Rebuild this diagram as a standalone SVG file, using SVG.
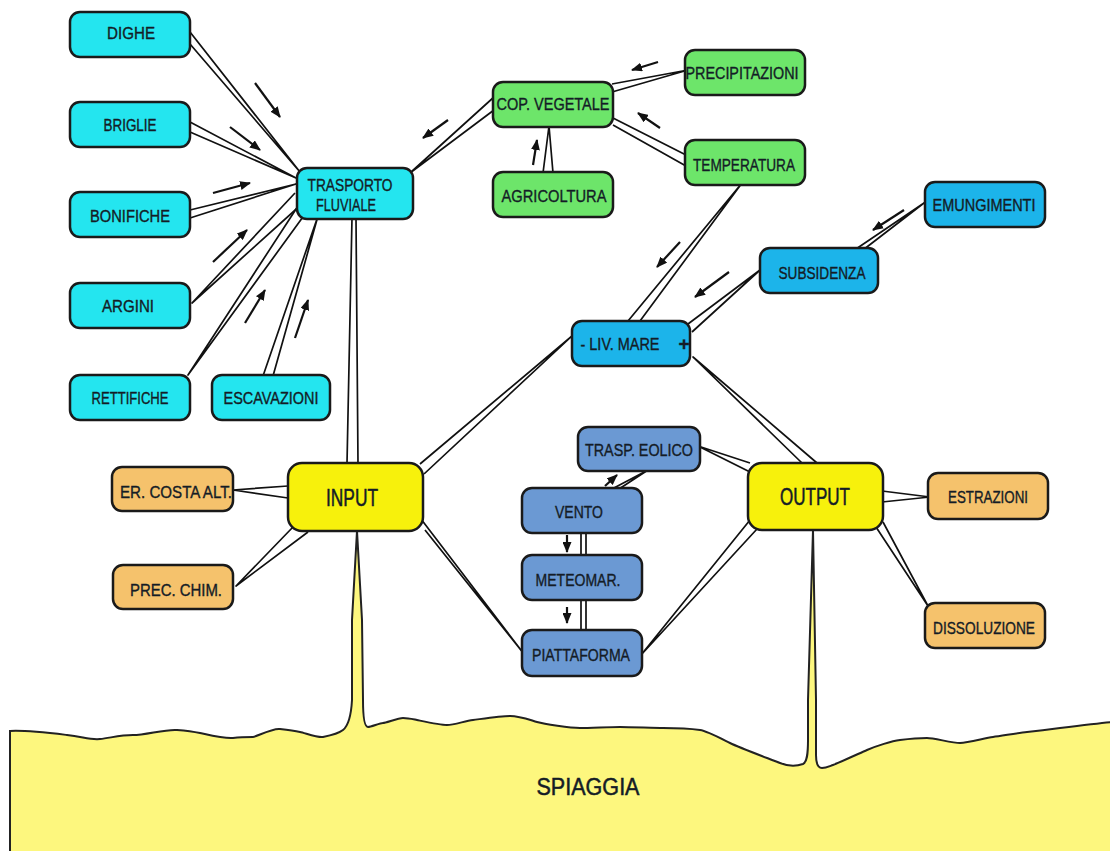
<svg xmlns="http://www.w3.org/2000/svg" width="1110" height="851" viewBox="0 0 1110 851">
<defs>
<marker id="ah" markerWidth="11" markerHeight="9" refX="10" refY="4.5" orient="auto" markerUnits="userSpaceOnUse">
<path d="M0,0 L11,4.5 L0,9 Z" fill="#111"/>
</marker>
<style>
.n rect{stroke:#1a1a1a;stroke-width:2.5}
.cy rect{fill:#24e5ef}
.gr rect{fill:#6de56a}
.bl rect{fill:#1cb4ea}
.st rect{fill:#6b99d3}
.ye rect{fill:#f7f10c}
.or rect{fill:#f5c26c}
text{font-family:"Liberation Sans",Arial,sans-serif;font-size:16.5px;fill:#141c26;stroke:#141c26;stroke-width:0.35;text-anchor:middle}
.big{font-size:23px;stroke-width:0.5}
.c path{fill:none;stroke:#111;stroke-width:1.7;stroke-linejoin:round}
.a line{stroke:#111;stroke-width:2.2;marker-end:url(#ah)}
</style>
</defs>
<rect width="1110" height="851" fill="#ffffff"/>
<g id="spiaggia">
<path d="M10,851 L10,731 C25,730 50,733 67,735 S90,740 100,739 S120,735 133,735 S165,729 177,730 S195,732 200,733 S225,739 233,738 S250,737 253,737 S272,728 280,729 S295,731 300,732 S318,738 323,737 S338,734 343,730 C348,726 351,718 352,700 L352,620 L357,531 L362,620 L363,700 C363,720 365,727 368,727 S380,723 383,723 S398,718 403,718 S412,719 417,720 S440,725 447,725 S465,721 473,720 S500,716 510,716 S530,720 537,722 S570,728 580,728 S610,727 620,727 S655,728 663,728 S693,729 700,730 S720,738 730,743 S770,759 780,763 S797,766 803,764 C807,762 808,755 808,740 L808,700 L813,530 L816,700 L816,755 C816,765 818,768 822,768 S830,766 833,765 S858,754 867,750 S892,741 900,740 S920,738 927,738 S952,743 960,743 S985,738 993,737 S1018,733 1027,732 S1052,729 1060,728 S1100,723 1112,722 L1112,853 L10,853 Z" fill="#fdf77e" stroke="#222" stroke-width="2"/>
<text x="588" y="795" class="big" textLength="103" lengthAdjust="spacingAndGlyphs">SPIAGGIA</text>
</g>
<g id="connectors" class="c">
<path d="M190,32 L300,172 L190,44"/>
<path d="M190,122 L296,178 L190,132"/>
<path d="M190,210 L296,184 L190,218"/>
<path d="M295,193 L192,303 L303,203"/>
<path d="M300,203 L188,375 L308,210"/>
<path d="M263,376 L318,216 L273,376"/>
<path d="M352,218 L347,464 M356,218 L358,464"/>
<path d="M494,97 L410,173 L494,110"/>
<path d="M612,84 L688,70 L612,92"/>
<path d="M613,118 L686,155 M613,125 L686,166"/>
<path d="M543,173 L549,126 L553,173"/>
<path d="M628,321 L742,183 L640,321"/>
<path d="M856,249 L924,203 L863,250"/>
<path d="M688,324 L760,270 L692,332"/>
<path d="M420,464 L572,336 L424,474"/>
<path d="M802,463 L693,357 L817,463"/>
<path d="M750,463 L698,446 L750,472"/>
<path d="M612,489 L648,470 L619,489"/>
<path d="M581,533 L581,556 M586,533 L586,556"/>
<path d="M581,600 L581,631 M586,600 L586,631"/>
<path d="M421,519 L524,654 L425,530"/>
<path d="M750,520 L641,655 L757,529"/>
<path d="M288,486 L233,490 L288,498"/>
<path d="M293,527 L236,586 L308,532"/>
<path d="M882,491 L930,497 L882,502"/>
<path d="M876,527 L928,606 L883,522"/>
</g>
<g id="arrows" class="a">
<line x1="255" y1="83" x2="280" y2="117"/>
<line x1="230" y1="127" x2="260" y2="150"/>
<line x1="213" y1="193" x2="250" y2="183"/>
<line x1="213" y1="262" x2="247" y2="230"/>
<line x1="245" y1="323" x2="265" y2="290"/>
<line x1="295" y1="338" x2="308" y2="300"/>
<line x1="448" y1="120" x2="423" y2="138"/>
<line x1="658" y1="62" x2="632" y2="70"/>
<line x1="660" y1="128" x2="638" y2="113"/>
<line x1="533" y1="165" x2="537" y2="140"/>
<line x1="680" y1="242" x2="657" y2="267"/>
<line x1="729" y1="272" x2="695" y2="297"/>
<line x1="904" y1="210" x2="873" y2="230"/>
<line x1="605" y1="486" x2="617" y2="475"/>
<line x1="567" y1="535" x2="567" y2="552"/>
<line x1="567" y1="607" x2="567" y2="623"/>
</g>
<g id="n-dighe" class="n cy"><rect x="70" y="12" width="120" height="45" rx="10"/><text x="131" y="39" textLength="48" lengthAdjust="spacingAndGlyphs">DIGHE</text></g>
<g id="n-briglie" class="n cy"><rect x="70" y="102" width="120" height="45" rx="10"/><text x="130" y="131" textLength="53" lengthAdjust="spacingAndGlyphs">BRIGLIE</text></g>
<g id="n-bonifiche" class="n cy"><rect x="70" y="192" width="120" height="45" rx="10"/><text x="130" y="222" textLength="80" lengthAdjust="spacingAndGlyphs">BONIFICHE</text></g>
<g id="n-argini" class="n cy"><rect x="70" y="283" width="120" height="45" rx="10"/><text x="128" y="312" textLength="52" lengthAdjust="spacingAndGlyphs">ARGINI</text></g>
<g id="n-rettifiche" class="n cy"><rect x="70" y="375" width="120" height="45" rx="10"/><text x="130" y="404" textLength="77" lengthAdjust="spacingAndGlyphs">RETTIFICHE</text></g>
<g id="n-escavazioni" class="n cy"><rect x="212" y="375" width="118" height="45" rx="10"/><text x="271" y="404" textLength="95" lengthAdjust="spacingAndGlyphs">ESCAVAZIONI</text></g>
<g id="n-trasporto" class="n cy"><rect x="297" y="168" width="116" height="51" rx="10"/><text x="350" y="191" textLength="85" lengthAdjust="spacingAndGlyphs">TRASPORTO</text><text x="346" y="211" textLength="60" lengthAdjust="spacingAndGlyphs">FLUVIALE</text></g>
<g id="n-cop" class="n gr"><rect x="493" y="82" width="120" height="45" rx="10"/><text x="553" y="110" textLength="113" lengthAdjust="spacingAndGlyphs">COP. VEGETALE</text></g>
<g id="n-precipitazioni" class="n gr"><rect x="685" y="50" width="120" height="45" rx="10"/><text x="742" y="79" textLength="113" lengthAdjust="spacingAndGlyphs">PRECIPITAZIONI</text></g>
<g id="n-temperatura" class="n gr"><rect x="685" y="140" width="120" height="45" rx="10"/><text x="744" y="171" textLength="102" lengthAdjust="spacingAndGlyphs">TEMPERATURA</text></g>
<g id="n-agricoltura" class="n gr"><rect x="493" y="172" width="120" height="45" rx="10"/><text x="554" y="202" textLength="105" lengthAdjust="spacingAndGlyphs">AGRICOLTURA</text></g>
<g id="n-emungimenti" class="n bl"><rect x="925" y="182" width="120" height="45" rx="10"/><text x="984" y="211" textLength="103" lengthAdjust="spacingAndGlyphs">EMUNGIMENTI</text></g>
<g id="n-subsidenza" class="n bl"><rect x="760" y="248" width="118" height="45" rx="10"/><text x="822" y="279" textLength="87" lengthAdjust="spacingAndGlyphs">SUBSIDENZA</text></g>
<g id="n-livmare" class="n bl"><rect x="572" y="321" width="118" height="45" rx="10"/><text x="620" y="350" textLength="79" lengthAdjust="spacingAndGlyphs">- LIV. MARE</text><text x="684" y="350" style="font-weight:bold;font-size:19px">+</text></g>
<g id="n-input" class="n ye"><rect x="288" y="463" width="135" height="68" rx="14"/><text x="352" y="506" class="big" textLength="52" lengthAdjust="spacingAndGlyphs">INPUT</text></g>
<g id="n-output" class="n ye"><rect x="748" y="463" width="135" height="67" rx="14"/><text x="815" y="505" class="big" textLength="70" lengthAdjust="spacingAndGlyphs">OUTPUT</text></g>
<g id="n-ercosta" class="n or"><rect x="112" y="467" width="121" height="44" rx="10"/><text x="176" y="498" textLength="112" lengthAdjust="spacingAndGlyphs">ER. COSTA ALT.</text></g>
<g id="n-precchim" class="n or"><rect x="113" y="565" width="120" height="44" rx="10"/><text x="176" y="596" textLength="92" lengthAdjust="spacingAndGlyphs">PREC. CHIM.</text></g>
<g id="n-estrazioni" class="n or"><rect x="928" y="473" width="120" height="46" rx="10"/><text x="988" y="503" textLength="80" lengthAdjust="spacingAndGlyphs">ESTRAZIONI</text></g>
<g id="n-dissoluzione" class="n or"><rect x="925" y="603" width="120" height="45" rx="10"/><text x="984" y="634" textLength="102" lengthAdjust="spacingAndGlyphs">DISSOLUZIONE</text></g>
<g id="n-eolico" class="n st"><rect x="578" y="427" width="122" height="44" rx="10"/><text x="639" y="456" textLength="108" lengthAdjust="spacingAndGlyphs">TRASP. EOLICO</text></g>
<g id="n-vento" class="n st"><rect x="522" y="488" width="120" height="45" rx="10"/><text x="579" y="518" textLength="48" lengthAdjust="spacingAndGlyphs">VENTO</text></g>
<g id="n-meteomar" class="n st"><rect x="522" y="555" width="120" height="45" rx="10"/><text x="578" y="586" textLength="85" lengthAdjust="spacingAndGlyphs">METEOMAR.</text></g>
<g id="n-piattaforma" class="n st"><rect x="522" y="630" width="120" height="46" rx="10"/><text x="581" y="661" textLength="98" lengthAdjust="spacingAndGlyphs">PIATTAFORMA</text></g>
</svg>
